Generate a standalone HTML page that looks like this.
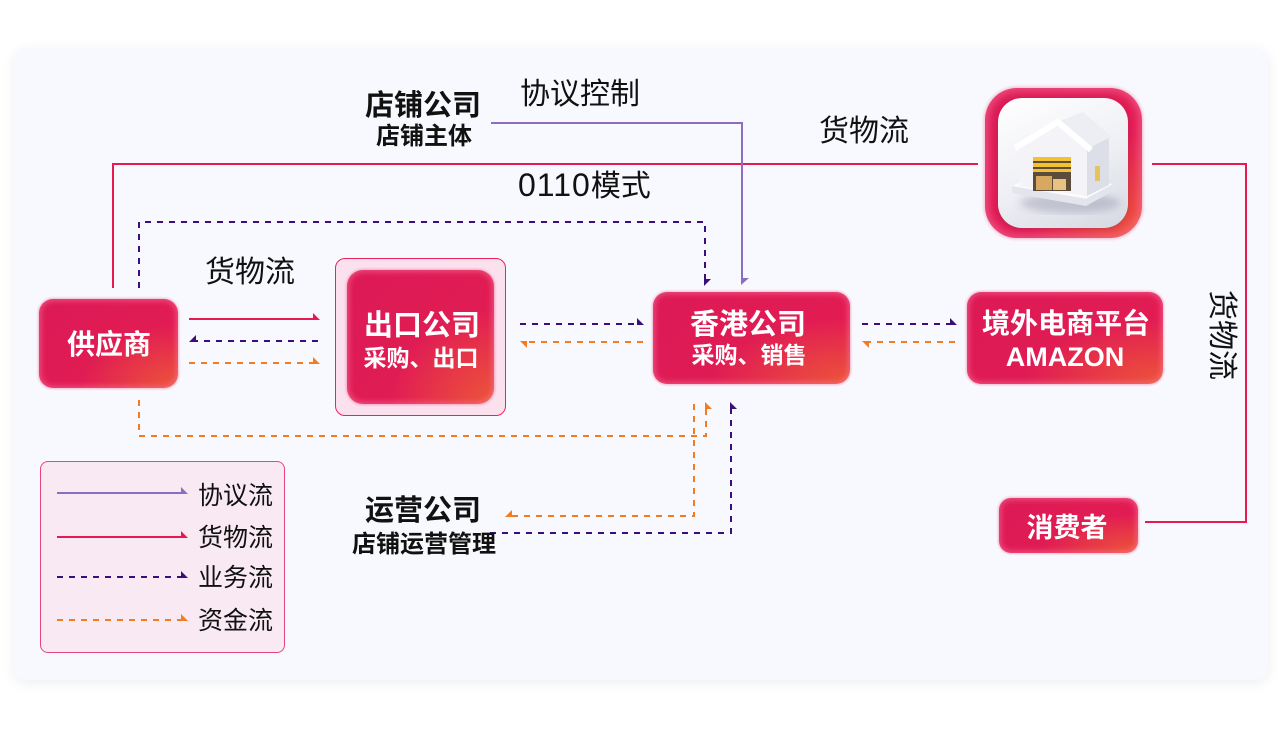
<!DOCTYPE html>
<html><head><meta charset="utf-8">
<style>
*{margin:0;padding:0;box-sizing:border-box}
html,body{width:1280px;height:731px;background:#fff;overflow:hidden}
body{position:relative;font-family:"Liberation Sans","Noto Sans CJK SC",sans-serif;color:#111}
.card{position:absolute;left:14px;top:48px;width:1254px;height:632px;background:#f8f9fe;border-radius:12px;box-shadow:0 3px 14px rgba(0,0,0,0.07)}
.t{position:absolute;white-space:nowrap;line-height:1;font-family:"Liberation Sans","Noto Sans CJK SC",sans-serif}
.c{text-align:center;width:300px}
.b{font-weight:bold}
.node{position:absolute;border-radius:14px;background:radial-gradient(ellipse at 100% 100%,rgba(236,88,56,0.95) 0%,rgba(236,88,56,0) 50%),linear-gradient(135deg,#dc1a56 0%,#e41d52 100%);box-shadow:inset 0 0 6px 2px rgba(255,140,175,.45),0 0 2px 1px rgba(225,30,85,.3)}
.w{color:#fff;font-weight:bold}
svg{position:absolute;left:0;top:0}
</style></head><body>
<div class="card"></div>

<!-- legend box -->
<div style="position:absolute;left:40px;top:461px;width:245px;height:192px;background:#f9e9f3;border:1px solid #e8457c;border-radius:8px"></div>
<!-- export outer box -->
<div style="position:absolute;left:335px;top:258px;width:171px;height:158px;background:#fbe0ee;border:1px solid #e8245a;border-radius:10px"></div>

<svg width="1280" height="731" viewBox="0 0 1280 731">
  <g fill="none" stroke-width="2">
    <path d="M113,288 V164 H978" stroke="#e51a50"/>
    <path d="M1152,164 H1246 V522 H1145" stroke="#e51a50"/>
    <path d="M491,123 H742 V280" stroke="#8d6cc4"/>
    <path d="M139,288 V222 H705 V280" stroke="#3a0f7c" stroke-dasharray="6 6"/>
    <path d="M139,400 V436 H706 V406" stroke="#f47b20" stroke-dasharray="6 6"/>
    <path d="M694,404 V516 H510" stroke="#f47b20" stroke-dasharray="6 6"/>
    <path d="M490,533 H731 V406" stroke="#3a0f7c" stroke-dasharray="6 6"/>
    <path d="M189,319 H316" stroke="#e51a50"/>
    <path d="M318,341 H192" stroke="#3a0f7c" stroke-dasharray="6 6"/>
    <path d="M189,363 H316" stroke="#f47b20" stroke-dasharray="6 6"/>
    <path d="M520,324 H640" stroke="#3a0f7c" stroke-dasharray="6 6"/>
    <path d="M643,342 H524" stroke="#f47b20" stroke-dasharray="6 6"/>
    <path d="M862,324 H954" stroke="#3a0f7c" stroke-dasharray="6 6"/>
    <path d="M955,342 H866" stroke="#f47b20" stroke-dasharray="6 6"/>
    <path d="M57,493 H184" stroke="#8d6cc4"/>
    <path d="M57,537 H184" stroke="#e51a50"/>
    <path d="M57,577 H184" stroke="#3a0f7c" stroke-dasharray="6 6"/>
    <path d="M57,620 H184" stroke="#f47b20" stroke-dasharray="6 6"/>
  </g>
  <polygon points="313,313 313,320 320,320" fill="#e51a50"/>
  <polygon points="196,335 196,342 189,342" fill="#3a0f7c"/>
  <polygon points="313,357 313,364 320,364" fill="#f47b20"/>
  <polygon points="637,318 637,325 644,325" fill="#3a0f7c"/>
  <polygon points="520,341 527,341 527,348" fill="#f47b20"/>
  <polygon points="950,318 950,325 957,325" fill="#3a0f7c"/>
  <polygon points="862,341 869,341 869,348" fill="#f47b20"/>
  <polygon points="741,278 749,278 741,285" fill="#8d6cc4"/>
  <polygon points="704,279 711,279 704,286" fill="#3a0f7c"/>
  <polygon points="705,402 705,409 712,409" fill="#f47b20"/>
  <polygon points="730,402 730,409 737,409" fill="#3a0f7c"/>
  <polygon points="512,510 512,517 505,517" fill="#f47b20"/>
  <polygon points="181,487 181,494 188,494" fill="#8d6cc4"/>
  <polygon points="181,531 181,538 188,538" fill="#e51a50"/>
  <polygon points="181,571 181,578 188,578" fill="#3a0f7c"/>
  <polygon points="181,614 181,621 188,621" fill="#f47b20"/>
</svg>

<!-- nodes -->
<div class="node" style="left:39px;top:299px;width:139px;height:89px"></div>
<div class="node" style="left:347px;top:270px;width:147px;height:134px;border-radius:16px"></div>
<div class="node" style="left:653px;top:292px;width:197px;height:92px"></div>
<div class="node" style="left:967px;top:292px;width:196px;height:92px"></div>
<div class="node" style="left:999px;top:498px;width:139px;height:55px;border-radius:12px"></div>

<!-- warehouse -->
<div class="node" style="left:985px;top:88px;width:157px;height:150px;border-radius:32px;box-shadow:inset 0 0 8px 4px rgba(255,130,170,.45),0 0 3px 1px rgba(225,30,85,.3)"></div>
<div style="position:absolute;left:998px;top:98px;width:130px;height:130px;border-radius:24px;background:linear-gradient(155deg,#ffffff 0%,#eeeff4 55%,#d6d8e2 100%);box-shadow:0 1px 3px rgba(120,60,90,.3)"></div>
<svg width="1280" height="731" viewBox="0 0 1280 731">
  <defs><filter id="bl"><feGaussianBlur stdDeviation="4"/></filter></defs>
  <ellipse cx="1070" cy="203" rx="50" ry="10" fill="rgba(110,110,140,0.3)" filter="url(#bl)"/>
  <polygon points="1012,186 1086,199 1113,184 1040,173" fill="#fbfbfd"/>
  <polygon points="1012,186 1086,199 1113,184 1113,191 1086,206 1012,193" fill="#e3e4ec"/>
  <polygon points="1020,146 1058,124 1087,149 1087,196 1020,186" fill="#f4f4f8"/>
  <polygon points="1058,122 1083,112 1112,137 1089,150" fill="#eceef4"/>
  <polygon points="1087,149 1109,138 1109,185 1087,196" fill="#dcdee8"/>
  <polyline points="1015,148 1058,122 1091,150" fill="none" stroke="#ffffff" stroke-width="6"/>
  <rect x="1033" y="157" width="38" height="34" fill="#5b4c3c"/>
  <rect x="1033" y="157" width="38" height="4" fill="#f2c230"/>
  <rect x="1033" y="163" width="38" height="4" fill="#f2c230"/>
  <rect x="1033" y="169" width="38" height="3" fill="#f2c230"/>
  <rect x="1036" y="176" width="16" height="14" fill="#d9a860"/>
  <rect x="1053" y="179" width="13" height="11" fill="#e8c280"/>
  <rect x="1095" y="166" width="5" height="15" fill="#e7c45a"/>
</svg>

<!-- node texts -->
<div class="t c w" style="left:-41px;top:331px;font-size:28px">供应商</div>
<div class="t c w" style="left:272px;top:312px;font-size:29px">出口公司</div>
<div class="t c w" style="left:271px;top:347px;font-size:23px">采购、出口</div>
<div class="t c w" style="left:598px;top:311px;font-size:29px">香港公司</div>
<div class="t c w" style="left:599px;top:344px;font-size:23px">采购、销售</div>
<div class="t c w" style="left:916px;top:310px;font-size:28px">境外电商平台</div>
<div class="t c w" style="left:915px;top:344px;font-size:27px">AMAZON</div>
<div class="t c w" style="left:917px;top:515px;font-size:27px">消费者</div>

<!-- labels -->
<div class="t c b" style="left:273px;top:92px;font-size:29px">店铺公司</div>
<div class="t c b" style="left:274px;top:125px;font-size:24px">店铺主体</div>
<div class="t" style="left:520px;top:80px;font-size:30px">协议控制</div>
<div class="t" style="left:819px;top:117px;font-size:30px">货物流</div>
<div class="t" style="left:518px;top:169px;font-size:30px"><span style="font-size:32px;letter-spacing:1px">0110</span>模式</div>
<div class="t" style="left:205px;top:258px;font-size:30px">货物流</div>
<div class="t" style="left:1176px;top:320px;width:90px;height:30px;font-size:30px;transform:rotate(90deg);transform-origin:45px 15px">货物流</div>
<div class="t c b" style="left:273px;top:497px;font-size:29px">运营公司</div>
<div class="t c b" style="left:274px;top:533px;font-size:24px">店铺运营管理</div>

<!-- legend texts -->
<div class="t" style="left:198px;top:484px;font-size:25px">协议流</div>
<div class="t" style="left:198px;top:526px;font-size:25px">货物流</div>
<div class="t" style="left:198px;top:566px;font-size:25px">业务流</div>
<div class="t" style="left:198px;top:609px;font-size:25px">资金流</div>
</body></html>
